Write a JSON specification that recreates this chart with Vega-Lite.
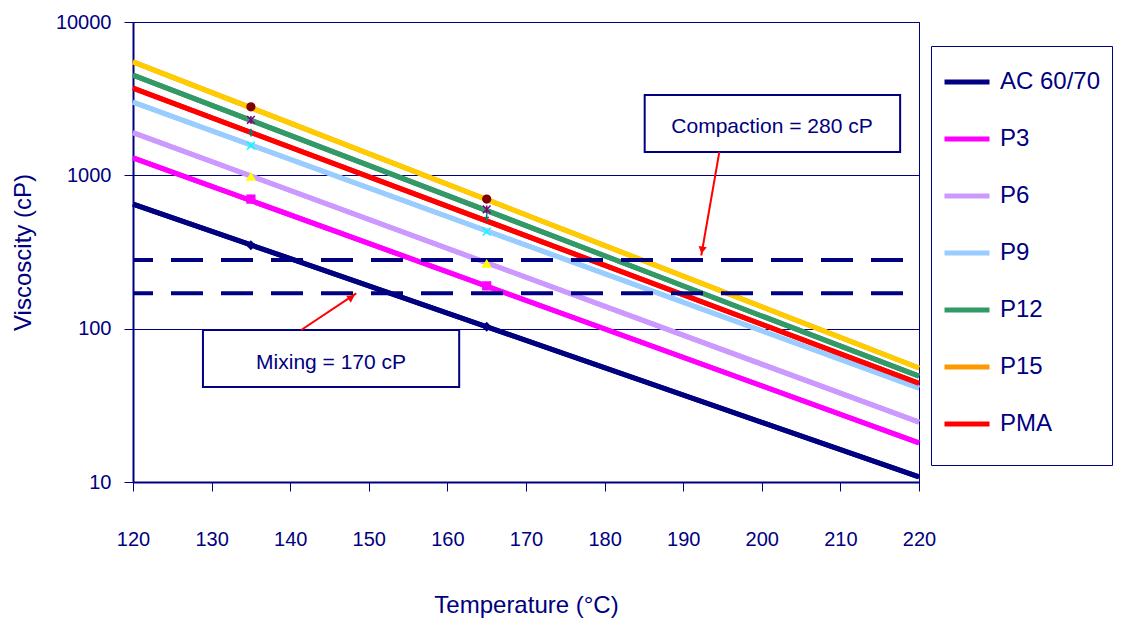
{
  "$schema": "https://vega.github.io/schema/vega-lite/v6.json",
  "width": 786,
  "height": 460,
  "autosize": {"type": "none"},
  "padding": {"left": 133, "top": 22, "right": 212, "bottom": 137},
  "background": "white",
  "config": {
    "view": {"stroke": "#000080", "strokeWidth": 1},
    "font": "Liberation Sans"
  },
  "datasets": {
    "lines": [
      {"series": "AC 60/70", "T": 120, "v": 650},
      {"series": "AC 60/70", "T": 220, "v": 10.8},
      {"series": "P3", "T": 120, "v": 1300},
      {"series": "P3", "T": 220, "v": 18.0},
      {"series": "P6", "T": 120, "v": 1900},
      {"series": "P6", "T": 220, "v": 24.6},
      {"series": "P9", "T": 120, "v": 3000},
      {"series": "P9", "T": 220, "v": 41},
      {"series": "P12", "T": 120, "v": 4500},
      {"series": "P12", "T": 220, "v": 49},
      {"series": "P15", "T": 120, "v": 5500},
      {"series": "P15", "T": 220, "v": 55.4},
      {"series": "PMA", "T": 120, "v": 3700},
      {"series": "PMA", "T": 220, "v": 44}
    ],
    "points": [
      {"series": "AC 60/70", "T": 135, "v": 350},
      {"series": "AC 60/70", "T": 165, "v": 103},
      {"series": "P3", "T": 135, "v": 700},
      {"series": "P3", "T": 165, "v": 190},
      {"series": "P6", "T": 135, "v": 980},
      {"series": "P6", "T": 165, "v": 265},
      {"series": "P9", "T": 135, "v": 1560},
      {"series": "P9", "T": 165, "v": 430},
      {"series": "P12", "T": 135, "v": 2300},
      {"series": "P12", "T": 165, "v": 600},
      {"series": "P15", "T": 135, "v": 2800},
      {"series": "P15", "T": 165, "v": 700},
      {"series": "PMA", "T": 135, "v": 1900},
      {"series": "PMA", "T": 165, "v": 530}
    ],
    "limits": [
      {"name": "Compaction", "v": 280},
      {"name": "Mixing", "v": 170}
    ],
    "boxes": [
      {"label": "Compaction = 280 cP", "T": 185.1, "T2": 217.6, "v": 3345, "v2": 1421, "tx": 201.3, "ty": 2070},
      {"label": "Mixing = 170 cP", "T": 128.9, "T2": 161.5, "v": 98, "v2": 41.7, "tx": 145.2, "ty": 59.7}
    ],
    "arrows": [
      {"name": "Compaction", "T": 194.6, "v": 1421, "T2": 192.3, "v2": 300},
      {"name": "Mixing", "T": 141.4, "v": 98, "T2": 148.4, "v2": 170}
    ],
    "headC": [{"T": 192.4, "v": 325}],
    "headM": [{"T": 147.8, "v": 160}]
  },
  "resolve": {"scale": {"color": "independent"}},
  "layer": [
    {
      "data": {"name": "lines"},
      "mark": {"type": "line", "strokeWidth": 5},
      "encoding": {
        "x": {
          "field": "T", "type": "quantitative",
          "scale": {"domain": [120, 220], "nice": false, "zero": false},
          "axis": {
            "title": "Temperature (°C)",
            "values": [120, 130, 140, 150, 160, 170, 180, 190, 200, 210, 220],
            "grid": false,
            "domainColor": "#000080", "domainWidth": 2,
            "tickColor": "#000080", "tickSize": 9, "tickWidth": 1,
            "labelPadding": 38, "labelFontSize": 20, "labelColor": "#000080",
            "labelFont": "Liberation Sans", "labelFlush": false, "labelOverlap": false,
            "titleFontSize": 24, "titleFontWeight": "normal", "titleColor": "#000080",
            "titleFont": "Liberation Sans", "titlePadding": 44
          }
        },
        "y": {
          "field": "v", "type": "quantitative",
          "scale": {"type": "log", "domain": [10, 10000], "nice": false},
          "axis": {
            "title": "Viscoscity (cP)",
            "values": [10, 100, 1000, 10000],
            "format": "d",
            "grid": true, "gridColor": "#000080", "gridWidth": 1, "gridOpacity": 1,
            "domainColor": "#000080", "domainWidth": 2,
            "tickColor": "#000080", "tickSize": 9, "tickWidth": 1,
            "labelPadding": 13, "labelFontSize": 20, "labelColor": "#000080",
            "labelFont": "Liberation Sans", "labelFlush": false, "labelOverlap": false,
            "titleFontSize": 24, "titleFontWeight": "normal", "titleColor": "#000080",
            "titleFont": "Liberation Sans", "titlePadding": 20
          }
        },
        "color": {
          "field": "series", "type": "nominal",
          "scale": {
            "domain": ["AC 60/70", "P3", "P6", "P9", "P12", "P15", "PMA"],
            "range": ["#000080", "#FF00FF", "#CC99FF", "#99CCFF", "#339966", "#FF9900", "#FF0000"]
          },
          "legend": {
            "orient": "none", "legendX": 798, "legendY": 24,
            "title": " ", "titleOrient": "bottom", "titlePadding": 14, "titleFontSize": 4,
            "strokeColor": "#000080", "fillColor": "white",
            "padding": 11,
            "symbolType": "stroke", "symbolSize": 2025, "symbolStrokeWidth": 5,
            "labelFontSize": 24, "labelColor": "#000080", "labelFont": "Liberation Sans",
            "labelOffset": 8, "rowPadding": 20, "labelLimit": 200
          }
        }
      }
    },
    {
      "data": {"name": "lines"},
      "mark": {"type": "line", "strokeWidth": 5},
      "encoding": {
        "x": {"field": "T", "type": "quantitative"},
        "y": {"field": "v", "type": "quantitative"},
        "color": {
          "field": "series", "type": "nominal",
          "scale": {
            "domain": ["AC 60/70", "P3", "P6", "P9", "P12", "P15", "PMA"],
            "range": ["#000080", "#FF00FF", "#CC99FF", "#99CCFF", "#339966", "#FFCC00", "#FF0000"]
          },
          "legend": null
        }
      }
    },
    {
      "data": {"name": "limits"},
      "mark": {"type": "rule", "color": "#000080", "strokeWidth": 4, "strokeDash": [32, 18], "strokeDashOffset": 34},
      "encoding": {
        "y": {"field": "v", "type": "quantitative"}
      }
    },
    {
      "data": {"name": "points"},
      "mark": {"type": "point", "filled": true, "size": 60, "strokeWidth": 1.5, "opacity": 1},
      "encoding": {
        "x": {"field": "T", "type": "quantitative"},
        "y": {"field": "v", "type": "quantitative"},
        "fill": {
          "field": "series", "type": "nominal",
          "scale": {
            "domain": ["AC 60/70", "P3", "P6", "P9", "P12", "P15", "PMA"],
            "range": ["#000080", "#FF00FF", "#FFFF00", "#00FFFF", "#800080", "#800000", "#008080"]
          },
          "legend": null
        },
        "stroke": {
          "field": "series", "type": "nominal",
          "scale": {
            "domain": ["AC 60/70", "P3", "P6", "P9", "P12", "P15", "PMA"],
            "range": ["#000080", "#FF00FF", "#FFFF00", "#00FFFF", "#800080", "#800000", "#008080"]
          },
          "legend": null
        },
        "shape": {
          "field": "series", "type": "nominal",
          "scale": {
            "domain": ["AC 60/70", "P3", "P6", "P9", "P12", "P15", "PMA"],
            "range": ["diamond", "square", "triangle-up", "M-1,-1L1,1M-1,1L1,-1", "M-1,-1L1,1M-1,1L1,-1M0,-1L0,1", "circle", "M0,-1L0,1M-0.6,0L0.6,0"]
          },
          "legend": null
        }
      }
    },
    {
      "data": {"name": "boxes"},
      "mark": {"type": "rect", "fill": "white", "stroke": "#000080", "strokeWidth": 2},
      "encoding": {
        "x": {"field": "T", "type": "quantitative"},
        "x2": {"field": "T2"},
        "y": {"field": "v", "type": "quantitative"},
        "y2": {"field": "v2"}
      }
    },
    {
      "data": {"name": "boxes"},
      "mark": {"type": "text", "color": "#000080", "fontSize": 21, "font": "Liberation Sans", "align": "center", "baseline": "middle"},
      "encoding": {
        "x": {"field": "tx", "type": "quantitative"},
        "y": {"field": "ty", "type": "quantitative"},
        "text": {"field": "label"}
      }
    },
    {
      "data": {"name": "arrows"},
      "mark": {"type": "rule", "color": "#FF0000", "strokeWidth": 2},
      "encoding": {
        "x": {"field": "T", "type": "quantitative"},
        "x2": {"field": "T2"},
        "y": {"field": "v", "type": "quantitative"},
        "y2": {"field": "v2"}
      }
    },
    {
      "data": {"name": "headC"},
      "mark": {"type": "point", "shape": "triangle-up", "filled": true, "color": "#FF0000", "size": 70, "angle": 190, "opacity": 1},
      "encoding": {
        "x": {"field": "T", "type": "quantitative"},
        "y": {"field": "v", "type": "quantitative"}
      }
    },
    {
      "data": {"name": "headM"},
      "mark": {"type": "point", "shape": "triangle-up", "filled": true, "color": "#FF0000", "size": 70, "angle": 57, "opacity": 1},
      "encoding": {
        "x": {"field": "T", "type": "quantitative"},
        "y": {"field": "v", "type": "quantitative"}
      }
    }
  ]
}
